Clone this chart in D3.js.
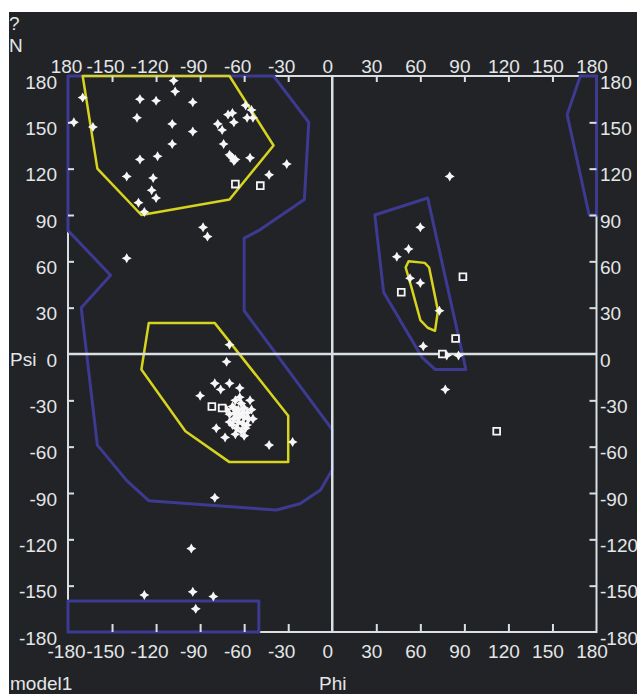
<!DOCTYPE html>
<html>
<head>
<meta charset="utf-8">
<script src="https://cdn.jsdelivr.net/npm/d3@7"></script>
<style>
body {margin: 0; background: #fff;}
svg {display: block; font-family: "Liberation Sans", Arial, sans-serif;}
.lbl {fill: #e4e6e7; font-size: 19px;}
.axis text {fill: #e4e6e7; font-size: 19px; font-family: "Liberation Sans", Arial, sans-serif;}
.axis line {stroke: #d9dfe2; stroke-width: 2px;}
.frame {fill: none; stroke: #d9dfe2; stroke-width: 2px;}
.cross {stroke: #d9dfe2; stroke-width: 2.5px;}
.allowed {fill: none; stroke: #3d3a92; stroke-width: 3px; stroke-linejoin: round;}
.core {fill: none; stroke: #d6d41e; stroke-width: 2.5px; stroke-linejoin: round;}
</style>
</head>
<body>
<svg width="637" height="694"></svg>
<script>
//Tick values for both angles.
var tickVals = [-180, -150, -120, -90, -60, -30, 0, 30, 60, 90, 120, 150, 180];

//Residues (phi, psi) drawn as stars.
var resPhi = [-170, -176, -163, -131, -120, -108, -107, -133, -109, -109, -131, -119, -140, -122, -123, -120, -132, -128,
	-95, -95, -59, -55, -58, -54, -71, -68, -67, -78, -75, -74, -70, -68, -66, -69, -67, -56, -31, -43, -88, -85, -140,
	-70, -72, -80, -70, -76, -63, -90, -79, -73, -43, -27,
	-66, -62, -68, -64, -60, -58, -66, -70, -63, -60, -57, -67, -64, -61, -68, -58, -65, -62, -55, -54, -70, -66, -60, -56, -72, -63, -59, -67, -61, -64,
	-80, -96, -128, -95, -81, -93,
	80, 60, 52, 44, 53, 60, 73, 62, 78, 86, 77];
var resPsi = [166, 150, 147, 165, 164, 177, 170, 153, 149, 136, 126, 128, 115, 114, 106, 101, 98, 92,
	163, 144, 161, 158, 153, 153, 155, 156, 150, 149, 145, 136, 129, 127, 126, 128, 125, 127, 123, 116, 82, 76, 62,
	6, -5, -19, -19, -23, -22, -27, -48, -54, -59, -57,
	-30, -32, -34, -36, -35, -38, -38, -39, -40, -41, -42, -42, -44, -45, -46, -46, -48, -50, -36, -42, -44, -52, -53, -30, -36, -28, -48, -35, -38, -41,
	-93, -126, -156, -154, -157, -165,
	115, 82, 68, 63, 49, 46, 28, 5, -1, -1, -23];

//Glycines (phi, psi) drawn as open squares.
var glyPhi = [-82, -75, -66, -49, 47, 89, 84, 75, 112];
var glyPsi = [-34, -35, 110, 109, 40, 50, 10, 0, -50];

//Region outlines, as [phi, psi] vertices.
var allowedRegions = [
	[[-180, 180], [-40, 180], [-16, 150], [-19, 100], [-50, 80], [-60, 75], [-60, 28], [0, -49], [0, -75], [-8, -88],
	 [-22, -97], [-38, -101], [-97, -97], [-125, -95], [-140, -82], [-160, -59], [-171, 30], [-151, 51], [-180, 80]],
	[[-180, -160], [-50, -160], [-50, -180], [-180, -180]],
	[[169, 180], [180, 180], [180, 90], [175, 90], [160, 155]],
	[[29, 90], [65, 101], [91, -10], [70, -10], [61, -2], [35, 40]]
];
var coreRegions = [
	[[-170, 180], [-160, 120], [-130, 90], [-70, 100], [-40, 135], [-70, 180]],
	[[-125, 20], [-80, 20], [-30, -40], [-30, -70], [-70, -70], [-100, -50], [-130, -10]],
	[[52, 60], [63, 59], [66, 56], [72, 28], [70, 15], [65, 17], [60, 22], [54, 43], [50, 56]]
];

var svg = d3.select('svg');

//Dark plotting panel, leaving a thin white margin top and left.
svg.append('rect')
	.attr('x', 9).attr('y', 12)
	.attr('width', 637 - 9).attr('height', 694 - 12)
	.attr('fill', '#212326');

var x = d3.scaleLinear().domain([-180, 180]).range([68, 596.5]);
var y = d3.scaleLinear().domain([-180, 180]).range([632, 76]);

//Frame.
svg.append('rect')
	.attr('class', 'frame')
	.attr('x', x(-180)).attr('y', y(180))
	.attr('width', x(180) - x(-180)).attr('height', y(-180) - y(180));

var outline = d3.line()
	.x(function(d) { return x(d[0]); })
	.y(function(d) { return y(d[1]); })
	.curve(d3.curveLinearClosed);

svg.selectAll('path.allowed')
	.data(allowedRegions)
	.enter().append('path')
	.attr('class', 'allowed')
	.attr('d', outline);
svg.selectAll('path.core')
	.data(coreRegions)
	.enter().append('path')
	.attr('class', 'core')
	.attr('d', outline);

//Cross hair through phi = 0 and psi = 0.
svg.append('line').attr('class', 'cross')
	.attr('x1', x(0)).attr('x2', x(0))
	.attr('y1', y(180)).attr('y2', y(-180));
svg.append('line').attr('class', 'cross')
	.attr('x1', x(-180)).attr('x2', x(180))
	.attr('y1', y(0)).attr('y2', y(0));

//Axes: inward ticks, labels outside the frame. Plain hyphen for the minus sign.
function fmt(d) { return String(d); }
function dxOf(d) { return d === -180 ? -2 : (d < 0 ? -7 : -5); }
function tidy(g) {
	g.select('.domain').remove();
	g.selectAll('.tick line').filter(function(d) { return Math.abs(d) === 180 || d === 0; }).remove();
}

var axTop = svg.append('g').attr('class', 'axis')
	.attr('transform', 'translate(0,' + y(180) + ')')
	.call(d3.axisTop(x).tickValues(tickVals).tickSizeInner(-6).tickSizeOuter(0)
		.tickFormat(function(d) { return d === -180 ? '180' : fmt(d); }))
	.call(tidy);
axTop.selectAll('text').attr('y', -3).attr('dy', 0).attr('dx', dxOf);

var axBottom = svg.append('g').attr('class', 'axis')
	.attr('transform', 'translate(0,' + y(-180) + ')')
	.call(d3.axisBottom(x).tickValues(tickVals).tickSizeInner(-8).tickSizeOuter(0).tickFormat(fmt))
	.call(tidy);
axBottom.selectAll('text').attr('y', 26).attr('dy', 0).attr('dx', dxOf);

var axLeft = svg.append('g').attr('class', 'axis')
	.attr('transform', 'translate(' + x(-180) + ',0)')
	.call(d3.axisLeft(y).tickValues(tickVals).tickSizeInner(-6).tickSizeOuter(0).tickFormat(fmt))
	.call(tidy);
axLeft.selectAll('text').attr('x', -11).attr('dy', 0).attr('y', 12);

var axRight = svg.append('g').attr('class', 'axis')
	.attr('transform', 'translate(' + x(180) + ',0)')
	.call(d3.axisRight(y).tickValues(tickVals).tickSizeInner(-7).tickSizeOuter(0).tickFormat(fmt))
	.call(tidy);
axRight.selectAll('text').attr('x', 3.5).attr('dy', 0).attr('y', 12);

//Residue markers.
var star = 'M0,-5L1.8,-1.8L5,0L1.8,1.8L0,5L-1.8,1.8L-5,0L-1.8,-1.8Z';
svg.append('g').selectAll('path')
	.data(d3.range(resPhi.length))
	.enter().append('path')
	.attr('d', star)
	.attr('fill', '#f6f6f6')
	.attr('transform', function(i) { return 'translate(' + x(resPhi[i]) + ',' + y(resPsi[i]) + ')'; });

svg.append('g').selectAll('path')
	.data(d3.range(glyPhi.length))
	.enter().append('path')
	.attr('d', d3.symbol(d3.symbolSquare, 46))
	.attr('fill', '#212326')
	.attr('stroke', '#f6f6f6')
	.attr('stroke-width', 1.8)
	.attr('transform', function(i) { return 'translate(' + x(glyPhi[i]) + ',' + y(glyPsi[i]) + ')'; });

//Loose labels.
svg.append('text').attr('class', 'lbl').attr('x', 9).attr('y', 30).text('?');
svg.append('text').attr('class', 'lbl').attr('x', 9).attr('y', 52).text('N');
svg.append('text').attr('class', 'lbl').attr('x', 10).attr('y', y(0) + 12).text('Psi');
svg.append('text').attr('class', 'lbl').attr('x', 319).attr('y', 690).text('Phi');
svg.append('text').attr('class', 'lbl').attr('x', 10).attr('y', 690).text('model1');
</script>
</body>
</html>
